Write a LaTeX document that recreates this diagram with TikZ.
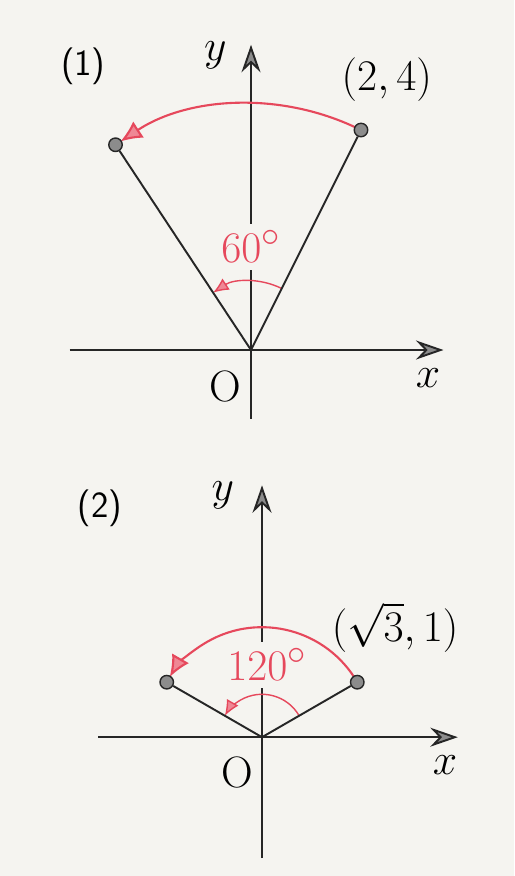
\documentclass[tikz,border=0pt]{standalone}
\usetikzlibrary{arrows.meta}
\definecolor{cred}{HTML}{E6485C}
\definecolor{cgrey}{HTML}{8C8C8C}
\definecolor{cink}{HTML}{262626}
\definecolor{paper}{HTML}{F5F4F0}
\tikzset{
  every picture/.style={line width=1.1pt},
  lbl/.style={font=\fontsize{25}{29}\selectfont, inner sep=1pt},
  tag/.style={font=\sffamily\fontsize{21}{25}\selectfont},
  axis/.style={draw=cink, -{Stealth[length=5.5mm, width=3.8mm, inset=1.8mm, fill=cgrey]}},
  ray/.style={draw=cink},
  dot/.style={circle, draw=cink, fill=cgrey, line width=0.8pt, minimum size=2.7mm, inner sep=0pt},
  turn/.style={draw=cred, line width=1.2pt, -{Latex[length=4.3mm, width=3.9mm, fill=cred!65]}, shorten >=1.2mm},
  turnsmall/.style={draw=cred, line width=0.8pt, -{Latex[length=3.1mm, width=2.7mm, fill=cred!65]}},
  ang/.style={lbl, font=\fontsize{28}{32}\selectfont, text=cred, fill=paper, inner ysep=4pt, inner xsep=1pt},
}

\begin{document}
\begin{tikzpicture}[x=1.1cm, y=1.1cm]
  \fill[paper] (-4.564,-9.564) rectangle (4.782,6.364);
  % (1) rotation by 60 degrees
  \coordinate (O1) at (0,0);
  \coordinate (x1a) at (-3.3,0); \coordinate (x1b) at (3.5,0);
  \coordinate (y1a) at (0,-1.25); \coordinate (y1b) at (0,5.55);
  \draw[axis] (x1a) -- (x1b);
  \draw[axis] (y1a) -- (y1b);
  \draw[turn] (63.43:4.472) arc[start angle=63.43, end angle=123.43, radius=4.472];
  \draw[turnsmall] (63.43:1.25) arc[start angle=63.43, end angle=123.43, radius=1.25];
  \node[ang] (a1) at (0,1.88) {$60^\circ$};
  \node[dot] (P1) at (2,4) {};
  \node[dot] (Q1) at (123.43:4.472) {};
  \draw[ray] (O1) -- (P1);
  \draw[ray] (O1) -- (Q1);
  \node[lbl] (P1l) at (2.47,4.91) {$(2,4)$};
  \node[lbl] (y1) at (-0.65,5.36) {$y$};
  \node[lbl] (x1) at (3.22,-0.51) {$x$};
  \node[lbl] (o1) at (-0.47,-0.67) {O};
  \node[tag] (t1) at (-3.05,5.15) {(1)};
  % (2) rotation by 120 degrees
  \begin{scope}[shift={(0.2,-7.04)}]
    \coordinate (O2) at (0,0);
    \coordinate (x2a) at (-2.98,0); \coordinate (x2b) at (3.56,0);
    \coordinate (y2a) at (0,-2.2); \coordinate (y2b) at (0,4.58);
    \draw[axis] (x2a) -- (x2b);
    \draw[axis] (y2a) -- (y2b);
    \draw[turn] (30:2) arc[start angle=30, end angle=150, radius=2];
    \draw[turnsmall] (30:0.78) arc[start angle=30, end angle=150, radius=0.78];
    \node[ang] (a2) at (0.09,1.32) {$120^\circ$};
    \node[dot] (P2) at (1.732,1) {};
    \node[dot] (Q2) at (150:2) {};
    \draw[ray] (O2) -- (P2);
    \draw[ray] (O2) -- (Q2);
    \node[lbl] (P2l) at (2.42,2.0) {$(\sqrt{3},1)$};
    \node[lbl] (y2) at (-0.71,4.4) {$y$};
    \node[lbl] (x2) at (3.33,-0.51) {$x$};
    \node[lbl] (o2) at (-0.44,-0.64) {O};
    \node[tag] (t2) at (-2.95,4.16) {(2)};
  \end{scope}
\end{tikzpicture}
\end{document}
